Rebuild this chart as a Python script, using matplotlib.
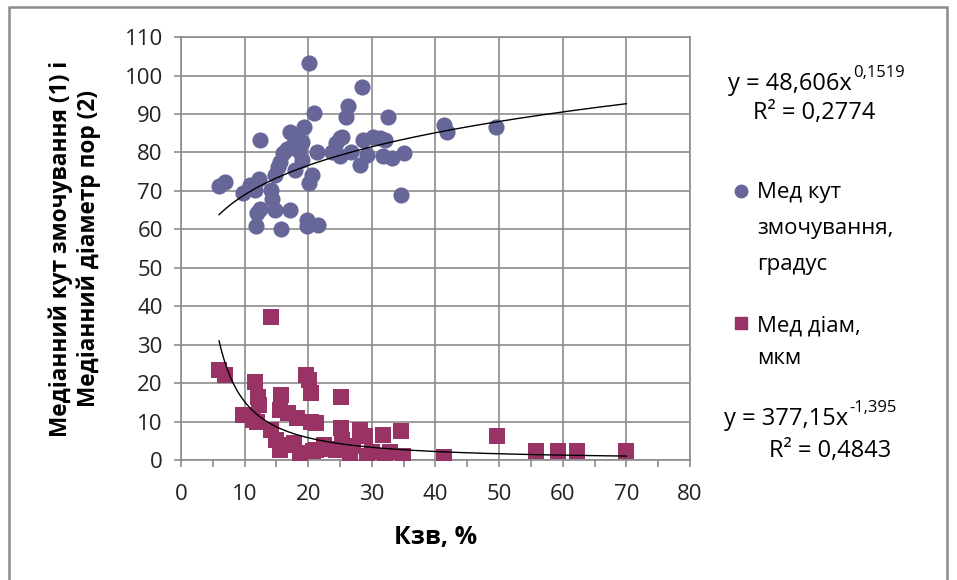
import matplotlib
matplotlib.use("Agg")
import matplotlib.pyplot as plt
from matplotlib.lines import Line2D
from matplotlib.patches import Rectangle
from matplotlib.ticker import MultipleLocator
import numpy as np

plt.rcParams['font.family'] = ['Open Sans', 'DejaVu Sans']

# Мед кут змочування, градус
angle_x = [6.0, 6.9, 9.8, 10.8, 11.6, 12.2, 12.4, 12.0, 12.5, 11.8, 14.2, 14.3, 14.8, 14.8,
           15.3, 15.6, 16.1, 16.6, 17.2, 17.2, 15.7, 18.0, 18.2, 19.0, 19.0, 19.3, 20.1, 20.1,
           20.6, 19.8, 19.8, 21.5, 20.9, 21.4, 23.8, 24.4, 25.0, 25.3, 25.0, 25.9, 26.3, 26.7,
           28.1, 28.5, 28.6, 29.2, 30.2, 31.3, 32.0, 32.5, 31.8, 33.1, 35.0, 34.6, 41.3, 41.8,
           49.5, 17.6, 18.6]
angle_y = [71.3, 72.4, 69.4, 71.5, 70.2, 73.0, 83.2, 64.2, 65.2, 60.9, 70.2, 67.8, 65.0, 74.2,
           76.3, 77.6, 79.8, 81.0, 85.4, 65.0, 60.1, 75.4, 84.2, 82.8, 78.0, 86.5, 103.2, 72.0,
           74.1, 62.4, 60.9, 61.1, 90.2, 80.2, 80.0, 82.4, 83.7, 84.0, 79.0, 89.3, 92.1, 80.2,
           76.7, 97.1, 83.2, 79.3, 84.1, 83.7, 83.2, 89.3, 79.0, 78.6, 79.8, 68.9, 87.1, 85.4,
           86.5, 82.0, 80.5]

# Мед діам, мкм
diam_x = [6.0, 6.9, 9.8, 11.4, 11.6, 12.1, 12.2, 12.0, 14.2, 15.5, 15.8, 16.8, 18.2, 19.7,
          20.1, 20.5, 20.5, 21.3, 14.2, 15.0, 15.5, 16.5, 17.8, 18.7, 20.8, 21.3, 22.5, 23.6,
          25.2, 25.2, 25.3, 24.4, 26.5, 27.0, 28.1, 28.9, 29.2, 30.0, 31.8, 32.0, 32.8, 34.6,
          34.9, 41.4, 49.6, 55.8, 59.2, 62.3, 69.9]
diam_y = [23.4, 22.1, 11.7, 10.4, 20.4, 16.5, 14.3, 10.0, 37.3, 13.0, 16.9, 12.1, 10.8, 22.1,
          20.8, 17.3, 10.0, 9.5, 7.8, 5.2, 2.6, 4.0, 4.3, 1.7, 2.2, 2.6, 4.0, 2.8,
          16.3, 8.2, 5.2, 2.6, 1.3, 3.5, 7.8, 6.1, 0.9, 2.0, 6.5, 0.9, 2.0, 7.4,
          0.9, 0.7, 6.1, 2.2, 2.2, 2.2, 2.2]

# степеневі лінії тренду (коефіцієнти з підписів)
a1, b1 = 48.606, 0.1519
a2, b2 = 377.15, -1.395
xt = np.linspace(6, 70, 200)

c_angle = '#666699'
c_diam = '#993366'

W, H = 957, 580
def fx(px):
    return px / W
def fy(py):
    return 1 - py / H

fig = plt.figure(figsize=(9.57, 5.8), dpi=100)
ax = fig.add_axes([0.189, 0.207, 0.532, 0.729])

ax.scatter(angle_x, angle_y, s=135, marker='o', color=c_angle, zorder=3, linewidths=0)
ax.scatter(diam_x, diam_y, s=125, marker='s', color=c_diam, zorder=3, linewidths=0)
ax.plot(xt, a1 * xt ** b1, color='black', lw=1, zorder=4)
ax.plot(xt, a2 * xt ** b2, color='black', lw=1, zorder=4)

ax.set_xlim(0, 80)
ax.set_ylim(0, 110)
ax.xaxis.set_major_locator(MultipleLocator(10))
ax.xaxis.set_minor_locator(MultipleLocator(5))
ax.yaxis.set_major_locator(MultipleLocator(10))
ax.grid(True, which='major', color='#8c8c8c', lw=1.2)
ax.set_axisbelow(True)
for s in ax.spines.values():
    s.set_color('#8c8c8c')
    s.set_linewidth(1.2)
ax.tick_params(axis='both', which='both', color='#8c8c8c', labelsize=16, labelcolor='#222222')
ax.tick_params(axis='both', which='major', length=5, width=1.2)
ax.tick_params(axis='x', which='minor', length=5, width=1.2)
ax.tick_params(axis='x', pad=12)
ax.tick_params(axis='y', pad=8)

ax.set_xlabel('Кзв, %', fontsize=18, fontweight='bold', labelpad=15)
ax.set_ylabel('Медіанний кут змочування (1) і\nМедіанний діаметр пор (2)',
              fontsize=16.3, fontweight='bold', labelpad=17, linespacing=1.2)

# підписи рівнянь трендів
fig.text(fx(852), fy(84), 'y = 48,606x', fontsize=17, ha='right', va='center')
fig.text(fx(853), fy(73), '0,1519', fontsize=12, ha='left', va='center')
fig.text(fx(814), fy(113), 'R² = 0,2774', fontsize=17, ha='center', va='center')
fig.text(fx(848), fy(419), 'y = 377,15x', fontsize=17, ha='right', va='center')
fig.text(fx(849), fy(408), '-1,395', fontsize=12, ha='left', va='center')
fig.text(fx(830), fy(451), 'R² = 0,4843', fontsize=17, ha='center', va='center')

# легенда
fig.add_artist(Line2D([fx(741)], [fy(191)], marker='o', markersize=9,
                      color=c_angle, transform=fig.transFigure))
fig.add_artist(Line2D([fx(741)], [fy(323)], marker='s', markersize=8,
                      color=c_diam, transform=fig.transFigure))
for line, py in zip(['Мед кут', 'змочування,', 'градус'], [198, 234, 270]):
    fig.text(fx(757), fy(py), line, fontsize=16, va='baseline', ha='left')
for line, py in zip(['Мед діам,', 'мкм'], [331, 364]):
    fig.text(fx(757), fy(py), line, fontsize=16, va='baseline', ha='left')

# рамка
fig.add_artist(Rectangle((fx(9), -0.05), 938 / W, 1.05 - 7 / H, fill=False,
                         edgecolor='#8c8c8c', lw=1.8, transform=fig.transFigure))

fig.savefig('out.png', dpi=100)
